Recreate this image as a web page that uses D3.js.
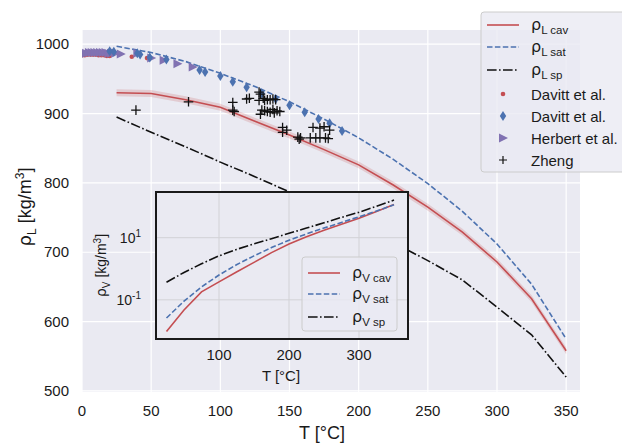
<!DOCTYPE html>
<html>
<head>
<meta charset="utf-8">
<script src="https://cdn.jsdelivr.net/npm/d3@7"></script>
<style>
  body { margin: 0; background: #fff; }
  text { font-family: "Liberation Sans", Arial, sans-serif; fill: #1a1a1a; }
  .math { font-family: "DejaVu Sans", sans-serif; }
</style>
</head>
<body>
<svg id="chart" width="622" height="445"></svg>
<script>
// ---- data ----
const temps = [25, 50, 75, 100, 125, 150, 175, 200, 225, 250, 275, 300, 325, 350];
const rhoLcav = [930, 929, 920, 909, 889, 869, 848, 826, 797, 765, 729, 686, 633, 558];
const rhoLsat = [997, 988, 975, 958, 939, 917, 892, 865, 834, 799, 759, 712, 654, 575];
const rhoLsp = [895, 873, 852, 830, 809, 787, 764, 740, 714, 688, 660, 621, 581, 520];
const rhoVcav = [0.0095, 0.047, 0.18, 0.38, 0.79, 1.6, 3.3, 6.3, 10.7, 17.4, 27, 42, 69, 117];
const rhoVsat = [0.026, 0.091, 0.26, 0.63, 1.35, 2.6, 4.8, 8.3, 13.2, 20.4, 31, 47, 72, 115];
const rhoVsp = [0.37, 0.76, 1.45, 2.6, 4.2, 6.3, 9.3, 13.8, 20.4, 30, 45, 66, 102, 162];

const davittDots = [[0, 984], [2, 984], [4, 985], [6, 985], [8, 985], [10, 985], [12, 984], [14, 984],
  [16, 984], [18, 983], [20, 983], [36, 982], [47, 980]];
const davittDiamonds = [[20, 990], [23, 989], [40, 987], [42, 985], [49, 981], [61, 978], [85, 963],
  [89, 960], [100, 954], [109, 946], [119, 938], [130, 929], [140, 921], [150, 912], [161, 902],
  [171, 892], [179, 886], [188, 875]];
const herbert = [[1, 987], [3, 987], [5, 988], [7, 988], [9, 988], [11, 988], [13, 988], [15, 988],
  [17, 988], [19, 987], [21, 987], [24, 987], [28, 986], [40, 987], [50, 980], [59, 977], [69, 972], [80, 967]];
const zheng = [[39, 905], [77, 917], [109, 916], [109, 905], [110, 903], [119, 921], [121, 922], [128, 931],
  [129, 928], [128, 919], [131, 922], [132, 919], [134, 920], [136, 920], [138, 921], [140, 920],
  [130, 905], [132, 904], [134, 903], [136, 902], [139, 901], [141, 904], [143, 903], [138, 906],
  [129, 899], [145, 880], [145, 873], [148, 876], [156, 866], [158, 865], [165, 865], [169, 865],
  [172, 865], [176, 865], [178, 864], [157, 863], [167, 880], [172, 879], [175, 881], [179, 876]];

const xTicks = [0, 50, 100, 150, 200, 250, 300, 350];
const yTicks = [500, 600, 700, 800, 900, 1000];
const insetXTicks = [100, 200, 300];
const insetYTicks = [0.1, 10];

const RED = '#c44e52', BLUE = '#4c72b0', PURPLE = '#8172b2';

const svg = d3.select('#chart');

// subscripted rho label, like mathtext
function rhoLabel(sel, sub, size) {
  sel.append('tspan').attr('class', 'math').text('ρ');
  sel.append('tspan').attr('dy', size * 0.28).style('font-size', (size * 0.72) + 'px').text(sub);
}

// ---- main axes ----
const M = { left: 82, right: 580, top: 30, bottom: 392 };
const x = d3.scaleLinear().domain([0, 360]).range([M.left, M.right]);
const y = d3.scaleLinear().domain([498.5, 1020.5]).range([M.bottom, M.top]);

svg.append('rect').attr('x', M.left).attr('y', M.top)
  .attr('width', M.right - M.left).attr('height', M.bottom - M.top).attr('fill', '#eaeaf2');

svg.append('g').selectAll('line').data(xTicks).join('line')
  .attr('x1', d => x(d)).attr('x2', d => x(d)).attr('y1', M.top).attr('y2', M.bottom)
  .attr('stroke', '#fff').attr('stroke-width', 1.2);
svg.append('g').selectAll('line').data(yTicks).join('line')
  .attr('x1', M.left).attr('x2', M.right).attr('y1', d => y(d)).attr('y2', d => y(d))
  .attr('stroke', '#fff').attr('stroke-width', 1.2);

svg.append('g').selectAll('text').data(xTicks).join('text')
  .attr('x', d => x(d)).attr('y', 416).attr('text-anchor', 'middle')
  .style('font-size', '15px').text(d => d);
svg.append('g').selectAll('text').data(yTicks).join('text')
  .attr('x', 69).attr('y', d => y(d) + 5).attr('text-anchor', 'end')
  .style('font-size', '15px').text(d => d);

svg.append('text').attr('x', 322).attr('y', 439).attr('text-anchor', 'middle')
  .style('font-size', '18px').text('T [°C]');

const yl = svg.append('text').attr('transform', 'translate(31,207) rotate(-90)')
  .attr('text-anchor', 'middle').style('font-size', '18px');
yl.append('tspan').attr('class', 'math').text('ρ');
yl.append('tspan').attr('dy', 5).style('font-size', '12px').text('L');
yl.append('tspan').attr('dy', -5).text(' [kg/m');
yl.append('tspan').attr('dy', -7).style('font-size', '12px').text('3');
yl.append('tspan').attr('dy', 7).text(']');

svg.append('clipPath').attr('id', 'clipMain').append('rect')
  .attr('x', M.left).attr('y', M.top).attr('width', M.right - M.left).attr('height', M.bottom - M.top);
const plot = svg.append('g').attr('clip-path', 'url(#clipMain)');

const line = vals => d3.line().x((d, i) => x(temps[i])).y(d => y(d))(vals);

// uncertainty band round the cavitation curve
plot.append('path')
  .attr('d', d3.area().x((d, i) => x(temps[i])).y0(d => y(d - 5)).y1(d => y(d + 5))(rhoLcav))
  .attr('fill', RED).attr('opacity', 0.2);
plot.append('path').attr('d', line(rhoLcav)).attr('fill', 'none').attr('stroke', RED).attr('stroke-width', 1.6);
plot.append('path').attr('d', line(rhoLsat)).attr('fill', 'none').attr('stroke', BLUE)
  .attr('stroke-width', 1.6).attr('stroke-dasharray', '5.5,2.4');
plot.append('path').attr('d', line(rhoLsp)).attr('fill', 'none').attr('stroke', '#111')
  .attr('stroke-width', 1.6).attr('stroke-dasharray', '9.6,2.4,1.6,2.4');

const diamond = 'M0,-5L3.2,0L0,5L-3.2,0Z';
const triRight = 'M-4,-4.5L5,0L-4,4.5Z';
const plus = 'M-4.8,0H4.8M0,-4.8V4.8';

plot.append('g').selectAll('circle').data(davittDots).join('circle')
  .attr('cx', d => x(d[0])).attr('cy', d => y(d[1])).attr('r', 2.3).attr('fill', RED);
plot.append('g').selectAll('path').data(herbert).join('path')
  .attr('transform', d => `translate(${x(d[0])},${y(d[1])})`).attr('d', triRight).attr('fill', PURPLE);
plot.append('g').selectAll('path').data(davittDiamonds).join('path')
  .attr('transform', d => `translate(${x(d[0])},${y(d[1])})`).attr('d', diamond).attr('fill', BLUE);
plot.append('g').selectAll('path').data(zheng).join('path')
  .attr('transform', d => `translate(${x(d[0])},${y(d[1])})`).attr('d', plus)
  .attr('stroke', '#111').attr('stroke-width', 1.3).attr('fill', 'none');

// ---- legend (main) ----
const lg = svg.append('g');
lg.append('rect').attr('x', 481).attr('y', 12).attr('width', 150).attr('height', 160).attr('rx', 3)
  .attr('fill', '#eaeaf2').attr('fill-opacity', 0.8).attr('stroke', '#cccccc').attr('stroke-width', 1);
const legendRows = [
  { kind: 'line', sub: 'L cav', color: RED, dash: null },
  { kind: 'line', sub: 'L sat', color: BLUE, dash: '5.5,2.4' },
  { kind: 'line', sub: 'L sp', color: '#111', dash: '9.6,2.4,1.6,2.4' },
  { kind: 'dot', label: 'Davitt et al.' },
  { kind: 'diamond', label: 'Davitt et al.' },
  { kind: 'tri', label: 'Herbert et al.' },
  { kind: 'plus', label: 'Zheng' }
];
const rowY = [25, 47, 70, 94, 116, 138, 160];
legendRows.forEach((r, i) => {
  const yy = rowY[i];
  if (r.kind === 'line') {
    lg.append('line').attr('x1', 487).attr('x2', 519).attr('y1', yy).attr('y2', yy)
      .attr('stroke', r.color).attr('stroke-width', 1.6).attr('stroke-dasharray', r.dash);
    const t = lg.append('text').attr('x', 531).attr('y', yy + 5).style('font-size', '16px');
    rhoLabel(t, r.sub, 16);
  } else {
    const g = lg.append('g').attr('transform', `translate(503,${yy})`);
    if (r.kind === 'dot') g.append('circle').attr('r', 2.3).attr('fill', RED);
    if (r.kind === 'diamond') g.append('path').attr('d', diamond).attr('fill', BLUE);
    if (r.kind === 'tri') g.append('path').attr('d', triRight).attr('fill', PURPLE);
    if (r.kind === 'plus') g.append('path').attr('d', 'M-4,0H4M0,-4V4').attr('stroke', '#111').attr('stroke-width', 1.2);
    lg.append('text').attr('x', 531).attr('y', yy + 5.5).style('font-size', '15px').text(r.label);
  }
});

// ---- inset ----
const I = { left: 156, right: 408, top: 192, bottom: 339 };
const ix = d3.scaleLinear().domain([10, 370]).range([I.left, I.right]);
const iy = d3.scaleLog().domain([Math.pow(10, -2.26), Math.pow(10, 2.47)]).range([I.bottom, I.top]);

svg.append('rect').attr('x', I.left).attr('y', I.top)
  .attr('width', I.right - I.left).attr('height', I.bottom - I.top).attr('fill', '#eaeaf2');
svg.append('g').selectAll('line').data(insetXTicks).join('line')
  .attr('x1', d => ix(d)).attr('x2', d => ix(d)).attr('y1', I.top).attr('y2', I.bottom)
  .attr('stroke', '#d2d2d6').attr('stroke-width', 1);
svg.append('g').selectAll('line').data(insetYTicks).join('line')
  .attr('x1', I.left).attr('x2', I.right).attr('y1', d => iy(d)).attr('y2', d => iy(d))
  .attr('stroke', '#d2d2d6').attr('stroke-width', 1);

svg.append('clipPath').attr('id', 'clipInset').append('rect')
  .attr('x', I.left).attr('y', I.top).attr('width', I.right - I.left).attr('height', I.bottom - I.top);
const inset = svg.append('g').attr('clip-path', 'url(#clipInset)');
const iline = vals => d3.line().x((d, i) => ix(temps[i])).y(d => iy(d))(vals);
inset.append('path').attr('d', iline(rhoVcav)).attr('fill', 'none').attr('stroke', RED).attr('stroke-width', 1.6);
inset.append('path').attr('d', iline(rhoVsat)).attr('fill', 'none').attr('stroke', BLUE)
  .attr('stroke-width', 1.6).attr('stroke-dasharray', '5.5,2.4');
inset.append('path').attr('d', iline(rhoVsp)).attr('fill', 'none').attr('stroke', '#111')
  .attr('stroke-width', 1.6).attr('stroke-dasharray', '9.6,2.4,1.6,2.4');

// inset legend
const il = svg.append('g');
il.append('rect').attr('x', 302).attr('y', 257).attr('width', 95).attr('height', 74).attr('rx', 3)
  .attr('fill', '#eaeaf2').attr('fill-opacity', 0.8).attr('stroke', '#cccccc');
[['V cav', RED, null, 273], ['V sat', BLUE, '5.5,2.4', 294], ['V sp', '#111', '9.6,2.4,1.6,2.4', 317]]
  .forEach(([sub, c, dash, yy]) => {
    il.append('line').attr('x1', 308).attr('x2', 340).attr('y1', yy).attr('y2', yy)
      .attr('stroke', c).attr('stroke-width', 1.6).attr('stroke-dasharray', dash);
    const t = il.append('text').attr('x', 352).attr('y', yy + 5).style('font-size', '16px');
    rhoLabel(t, sub, 16);
  });

svg.append('rect').attr('x', I.left).attr('y', I.top)
  .attr('width', I.right - I.left).attr('height', I.bottom - I.top)
  .attr('fill', 'none').attr('stroke', '#1a1a1a').attr('stroke-width', 2);

svg.append('g').selectAll('text').data(insetXTicks).join('text')
  .attr('x', d => ix(d)).attr('y', 360).attr('text-anchor', 'middle')
  .style('font-size', '15px').text(d => d);
svg.append('g').selectAll('text').data(insetYTicks).join('text')
  .attr('x', 141).attr('y', d => iy(d) + 5).attr('text-anchor', 'end')
  .style('font-size', '14px')
  .each(function (d) {
    const t = d3.select(this);
    t.append('tspan').text('10');
    t.append('tspan').attr('dy', -6).style('font-size', '10px').text(Math.round(Math.log10(d)));
  });
svg.append('text').attr('x', 281).attr('y', 381).attr('text-anchor', 'middle')
  .style('font-size', '15px').text('T [°C]');

const iyl = svg.append('text').attr('transform', `translate(106,${(I.top + I.bottom) / 2}) rotate(-90)`)
  .attr('text-anchor', 'middle').style('font-size', '14px');
iyl.append('tspan').attr('class', 'math').text('ρ');
iyl.append('tspan').attr('dy', 4).style('font-size', '10px').text('V');
iyl.append('tspan').attr('dy', -4).text(' [kg/m');
iyl.append('tspan').attr('dy', -5).style('font-size', '10px').text('3');
iyl.append('tspan').attr('dy', 5).text(']');
</script>
</body>
</html>
